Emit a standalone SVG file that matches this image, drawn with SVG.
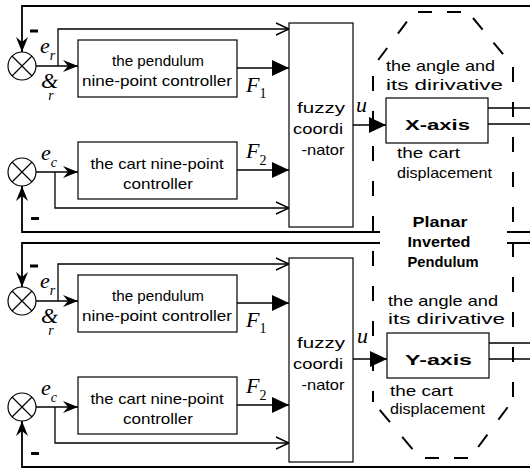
<svg xmlns="http://www.w3.org/2000/svg" width="530" height="470" viewBox="0 0 530 470">
<defs>
<style>
.box{fill:#fff;stroke:#000;stroke-width:1.2}
.ln{fill:none;stroke:#000;stroke-width:1.3}
.fb{fill:none;stroke:#000;stroke-width:1.8}
.sum{fill:#fff;stroke:#000;stroke-width:1.2}
.x{stroke:#000;stroke-width:1.2}
.t{font-family:"Liberation Sans",Arial,sans-serif;font-size:15px;fill:#000}
.c{text-anchor:middle}
.b{font-weight:bold}
.m{font-family:"Liberation Serif","Times New Roman",serif;font-style:italic;fill:#000;font-size:22px}
.sub{font-size:14px}
.up{font-style:normal}
.d{fill:none;stroke:#000;stroke-width:2}
</style>
<marker id="an" markerWidth="16" markerHeight="12" refX="15" refY="6" orient="auto" markerUnits="userSpaceOnUse"><path d="M0,0 L15,6 L0,12 L5,6 z" fill="#000"/></marker>
<marker id="at" markerWidth="17" markerHeight="16" refX="17" refY="8" orient="auto" markerUnits="userSpaceOnUse"><path d="M0,0 L17,8 L0,16 z" fill="#000"/></marker>
<marker id="ao" markerWidth="16" markerHeight="14" refX="14" refY="7" orient="auto" markerUnits="userSpaceOnUse"><path d="M1,1 L14,7 L1,13" fill="none" stroke="#000" stroke-width="1.4"/></marker>
</defs>
<rect width="530" height="470" fill="#fff"/>

<g id="plant-outline">
<path class="d" d="M414,12 H468" stroke-dasharray="14 15" stroke-dashoffset="25"/>
<path class="d" d="M373,67 L414,12" stroke-dasharray="15 18" stroke-dashoffset="24.3"/>
<path class="d" d="M468,12 L513,66" stroke-dasharray="15 17" stroke-dashoffset="24.2"/>
<path class="d" d="M373,67 V402" stroke-dasharray="15 20" stroke-dashoffset="26"/>
<path class="d" d="M513,66 V400" stroke-dasharray="15 20" stroke-dashoffset="34"/>
<path class="d" d="M373,402 L420,458" stroke-dasharray="16 19" stroke-dashoffset="24.6"/>
<path class="d" d="M420,458 H470" stroke-dasharray="14 15" stroke-dashoffset="24"/>
<path class="d" d="M470,458 L513,400" stroke-dasharray="15.5 18.5" stroke-dashoffset="20.3"/>
<text class="t c b" x="440" y="227" font-size="16" textLength="55" lengthAdjust="spacingAndGlyphs">Planar</text>
<text class="t c b" x="439" y="247" font-size="16" textLength="63" lengthAdjust="spacingAndGlyphs">Inverted</text>
<text class="t c b" x="443" y="267" font-size="16" textLength="71" lengthAdjust="spacingAndGlyphs">Pendulum</text>
</g>

<g id="connectors">
<path class="fb" d="M530,6 H22 V52" marker-end="url(#an)"/>
<path class="fb" d="M530,232 H507 M380,232 H22 V186" marker-end="url(#an)"/>
<path class="ln" d="M58,66 V29 H289" marker-end="url(#ao)"/>
<path class="ln" d="M55,172 V208 H289" marker-end="url(#ao)"/>
<path class="ln" d="M36,66 H78" marker-end="url(#an)"/>
<path class="ln" d="M36,172 H78" marker-end="url(#an)"/>
<path class="ln" d="M237,68 H289" marker-end="url(#at)"/>
<path class="ln" d="M237,170 H289" marker-end="url(#at)"/>
<path class="ln" d="M353,125 H386" marker-end="url(#at)"/>
<path class="ln" d="M488,108 H530 M488,124 H530"/>

<path class="fb" d="M530,243 H507 M380,243 H22 V287" marker-end="url(#an)"/>
<path class="fb" d="M530,467 H22 V421" marker-end="url(#an)"/>
<path class="ln" d="M58,301 V264 H289" marker-end="url(#ao)"/>
<path class="ln" d="M55,407 V443 H289" marker-end="url(#ao)"/>
<path class="ln" d="M36,301 H78" marker-end="url(#an)"/>
<path class="ln" d="M36,407 H78" marker-end="url(#an)"/>
<path class="ln" d="M237,303 H289" marker-end="url(#at)"/>
<path class="ln" d="M237,405 H289" marker-end="url(#at)"/>
<path class="ln" d="M353,359 H387" marker-end="url(#at)"/>
<path class="ln" d="M489,343 H530 M489,359 H530"/>

<rect x="30" y="29.5" width="8" height="3" fill="#000"/>
<rect x="31" y="217" width="8" height="3" fill="#000"/>
<rect x="30" y="264.5" width="8" height="3" fill="#000"/>
<rect x="31" y="452" width="8" height="3" fill="#000"/>
</g>

<g id="sum-r1">
<circle class="sum" cx="22" cy="66" r="14"/>
<path class="x" d="M12,56 L32,76 M32,56 L12,76"/>
<text class="m" x="40" y="53">e<tspan class="sub" dy="7">r</tspan></text>
<text class="m" x="41" y="88" font-size="24">&amp;<tspan class="sub" dx="-10" dy="12">r</tspan></text>
</g>
<g id="sum-c1">
<circle class="sum" cx="22" cy="172" r="14"/>
<path class="x" d="M12,162 L32,182 M32,162 L12,182"/>
<text class="m" x="41" y="160">e<tspan class="sub" dy="7">c</tspan></text>
</g>
<g id="pend-ctrl1">
<rect class="box" x="78" y="40" width="159" height="57"/>
<text class="t c" x="158" y="66" textLength="92" lengthAdjust="spacingAndGlyphs">the pendulum</text>
<text class="t c" x="157" y="86" textLength="150" lengthAdjust="spacingAndGlyphs">nine-point controller</text>
</g>
<g id="cart-ctrl1">
<rect class="box" x="78" y="142" width="159" height="57"/>
<text class="t c" x="157" y="169" textLength="133" lengthAdjust="spacingAndGlyphs">the cart nine-point</text>
<text class="t c" x="158" y="189" textLength="70" lengthAdjust="spacingAndGlyphs">controller</text>
</g>
<g id="labels-F-top">
<text class="m" x="246" y="92">F<tspan class="sub up" dy="6">1</tspan></text>
<text class="m" x="246" y="158">F<tspan class="sub up" dy="7">2</tspan></text>
</g>
<g id="fuzzy1">
<rect class="box" x="289" y="23" width="64" height="204"/>
<text class="t c" x="321" y="113" font-size="18" textLength="48" lengthAdjust="spacingAndGlyphs">fuzzy</text>
<text class="t c" x="318" y="134" font-size="18" textLength="50" lengthAdjust="spacingAndGlyphs">coordi</text>
<text class="t c" x="323" y="155" font-size="18" textLength="43" lengthAdjust="spacingAndGlyphs">-nator</text>
<text class="m" x="356" y="112">u</text>
</g>
<g id="x-axis">
<rect class="box" x="386" y="98" width="102" height="45"/>
<text class="t b" x="405" y="130" font-size="20" textLength="65" lengthAdjust="spacingAndGlyphs">X-axis</text>
<text class="t" x="386" y="71" textLength="109" lengthAdjust="spacingAndGlyphs">the angle and</text>
<text class="t" x="386" y="90" textLength="117" lengthAdjust="spacingAndGlyphs">its dirivative</text>
<text class="t" x="397" y="158" textLength="63" lengthAdjust="spacingAndGlyphs">the cart</text>
<text class="t" x="397" y="178" textLength="95" lengthAdjust="spacingAndGlyphs">displacement</text>
</g>

<g id="sum-r2">
<circle class="sum" cx="22" cy="301" r="14"/>
<path class="x" d="M12,291 L32,311 M32,291 L12,311"/>
<text class="m" x="40" y="288">e<tspan class="sub" dy="7">r</tspan></text>
<text class="m" x="41" y="323" font-size="24">&amp;<tspan class="sub" dx="-10" dy="12">r</tspan></text>
</g>
<g id="sum-c2">
<circle class="sum" cx="22" cy="407" r="14"/>
<path class="x" d="M12,397 L32,417 M32,397 L12,417"/>
<text class="m" x="41" y="395">e<tspan class="sub" dy="7">c</tspan></text>
</g>
<g id="pend-ctrl2">
<rect class="box" x="78" y="275" width="159" height="57"/>
<text class="t c" x="158" y="301" textLength="92" lengthAdjust="spacingAndGlyphs">the pendulum</text>
<text class="t c" x="157" y="321" textLength="150" lengthAdjust="spacingAndGlyphs">nine-point controller</text>
</g>
<g id="cart-ctrl2">
<rect class="box" x="78" y="377" width="159" height="57"/>
<text class="t c" x="157" y="404" textLength="133" lengthAdjust="spacingAndGlyphs">the cart nine-point</text>
<text class="t c" x="158" y="424" textLength="70" lengthAdjust="spacingAndGlyphs">controller</text>
</g>
<g id="labels-F-bottom">
<text class="m" x="246" y="327">F<tspan class="sub up" dy="6">1</tspan></text>
<text class="m" x="246" y="393">F<tspan class="sub up" dy="7">2</tspan></text>
</g>
<g id="fuzzy2">
<rect class="box" x="289" y="258" width="64" height="204"/>
<text class="t c" x="321" y="348" font-size="18" textLength="48" lengthAdjust="spacingAndGlyphs">fuzzy</text>
<text class="t c" x="318" y="369" font-size="18" textLength="50" lengthAdjust="spacingAndGlyphs">coordi</text>
<text class="t c" x="323" y="390" font-size="18" textLength="43" lengthAdjust="spacingAndGlyphs">-nator</text>
<text class="m" x="357" y="343">u</text>
</g>
<g id="y-axis">
<rect class="box" x="387" y="333" width="102" height="45"/>
<text class="t b" x="405" y="365" font-size="20" textLength="67" lengthAdjust="spacingAndGlyphs">Y-axis</text>
<text class="t" x="388" y="306" textLength="110" lengthAdjust="spacingAndGlyphs">the angle and</text>
<text class="t" x="388" y="324" textLength="117" lengthAdjust="spacingAndGlyphs">its dirivative</text>
<text class="t" x="390" y="396" textLength="63" lengthAdjust="spacingAndGlyphs">the cart</text>
<text class="t" x="390" y="414" textLength="95" lengthAdjust="spacingAndGlyphs">displacement</text>
</g>
</svg>
